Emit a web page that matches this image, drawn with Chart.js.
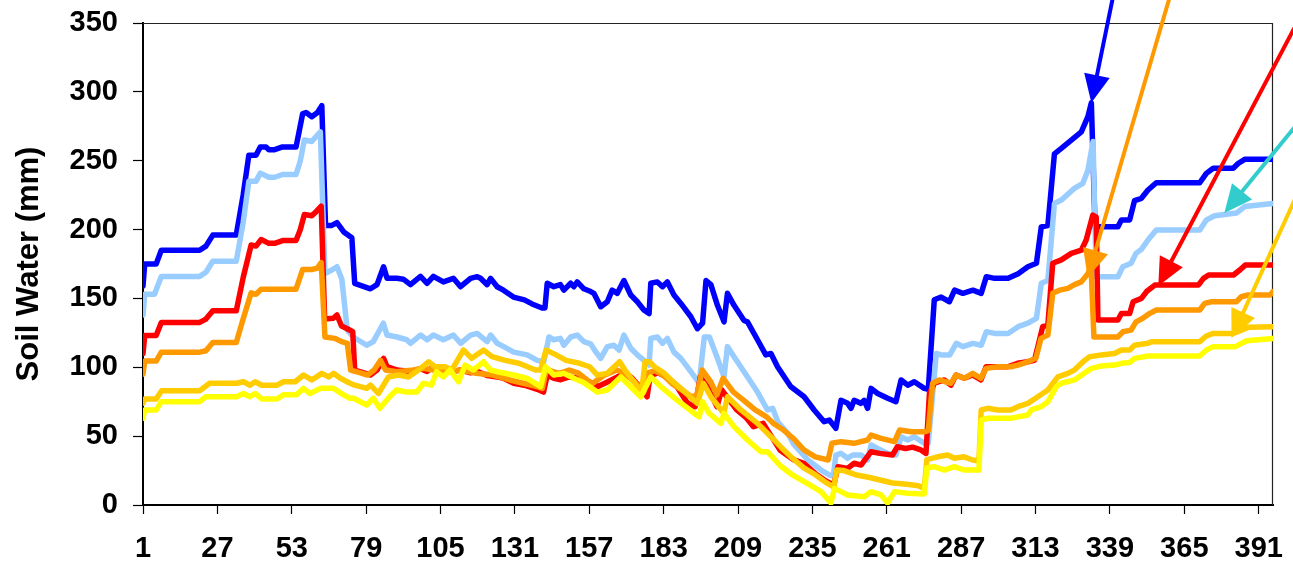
<!DOCTYPE html>
<html>
<head>
<meta charset="utf-8">
<script src="https://cdn.jsdelivr.net/npm/chart.js@4.4.1/dist/chart.umd.min.js"></script>
<style>
  html, body { margin: 0; padding: 0; background: #ffffff; }
  #c { display: block; }
</style>
</head>
<body>
<canvas id="c" width="1293" height="576"></canvas>
<script>
// Day-of-record tick labels and soil-water tick values
const dayTicks = [1, 27, 53, 79, 105, 131, 157, 183, 209, 235, 261, 287, 313, 339, 365, 391];
const mmTicks = [0, 50, 100, 150, 200, 250, 300, 350];

// Soil water (mm) per profile, as [day, mm] pairs
const blueProfile = [[1,159],[1.6,175],[5.6,175],[7.4,185],[20.8,185],[23,188],[25.4,196],[33.6,196],[36,225],[38,254],[40.5,254],[42,260],[44,260],[45,258],[47,258],[49.8,260],[54.5,260],[56.8,284],[58,285],[60,282],[62,285],[63.5,290],[64.8,203],[67,203],[68.8,205],[71.3,198],[74,194],[75,161],[80.5,157],[82.8,160],[85.1,173],[86.3,164.6],[89.8,164.6],[92,164],[94.5,160],[98,166],[100.3,161],[102.5,166],[106,162],[109.5,164.6],[112,158.5],[115.5,164.6],[117.8,165.8],[119,164.6],[121.3,160],[122.5,164.6],[124.8,158.5],[127,156],[130.5,151],[134.3,149],[137,146],[140.5,143],[141.5,143],[142.3,161],[144.6,158.5],[146.9,160],[148.1,156],[150.5,161],[151.6,158.5],[152.8,162],[155.1,157],[157.5,155],[158.6,153.7],[161,144],[163.3,147.6],[165,156],[166.8,153.7],[169.1,163],[171.5,152.5],[173.8,147.6],[176.1,141.6],[177.9,139],[178.5,161],[180.8,162],[182.6,158.5],[184.3,162],[186.6,152.5],[189,146.4],[192.5,136.7],[194.8,128],[196.6,132],[197.8,163],[199.5,160],[201.8,145],[204.1,133],[205.3,153.7],[207.6,145],[211.1,134],[212.3,133],[215.8,120],[218.7,109],[220.5,110],[222.8,100.4],[227.4,86],[232.1,78.6],[235.6,69],[239.1,60.5],[240.9,61.7],[243.2,55.7],[245,76],[247.3,73.8],[248.5,70.2],[249.6,76],[252,73.8],[253.1,76],[254.3,70.2],[255.5,84.7],[257.8,81],[261.3,77.5],[264.2,75],[266,90.8],[268.3,87],[270.6,89.5],[274.1,84.7],[275.5,84],[277.6,149],[280,151],[282.9,147.6],[284.7,156],[287.6,153.7],[291.1,156],[294,153.7],[295.8,165.8],[298.7,164.6],[303.4,164.6],[306.9,168],[310.3,173],[313.3,175.5],[315,202],[317.3,203],[319.6,255],[322,259],[325.5,265],[329,271],[331.3,282],[332.5,292],[333.8,202],[341.8,202],[343,207],[345.9,207],[347.6,221],[350,222.7],[352.3,228.7],[355.2,234],[370.4,234],[372.7,240.8],[375.1,244.5],[382.1,244.5],[383.8,248],[386.1,251],[396,251]];

const lightBlueProfile = [[1,138],[1.6,153],[5,153],[7.4,166],[20.8,166],[23,169],[25.4,177],[33.6,177],[36,205],[38,235],[40.5,235],[42,241],[45,238],[47,238],[49.8,240],[54.5,240],[56,250],[57.4,265],[60,264],[63,271],[64.6,168],[67,170.6],[68.8,173],[70.5,164],[72.4,127],[74.5,122],[79.2,116],[81.5,118.6],[85,132],[86.3,123.4],[89.8,122],[93.2,120],[94.5,117.4],[98,123.4],[100.3,120],[102.5,123.4],[106,120],[109.5,123.4],[112,117.4],[115.5,123.4],[117.8,124.6],[121.3,118.6],[122.5,123.4],[124.8,117.4],[127.1,115],[130.6,111],[135.3,109],[138.8,105],[141.1,104],[142.9,122],[144.6,120],[146.9,121],[148.1,116],[150.5,122],[152.8,123.4],[155.1,118.6],[157.5,117],[159,112],[161,106.5],[163.3,115],[165.6,116],[167.4,112.5],[169.1,123.4],[171.5,113.8],[173.8,109],[176.1,105],[177.9,101.6],[178.5,121],[180.8,122],[182.6,117.4],[184.3,121],[186.6,111],[189,106.5],[192.5,96.8],[195.4,88.4],[197.2,122],[199,122],[201.8,106.5],[204.1,93],[205.3,115],[207.6,107.7],[211.1,96.8],[215.8,82],[219.3,69],[221.1,70.2],[223,60],[226.4,52],[228.5,44],[233.3,33],[238,25.4],[240.9,21.8],[242.3,21],[243.2,36.3],[245,37.5],[247.3,34],[249.1,36.3],[252,36.3],[254.3,32.7],[255.5,43.6],[257.8,41],[261.3,37.5],[264.2,36.3],[266,49.6],[268.3,47.2],[270.6,49.6],[274.1,44.8],[275.5,45],[277,80],[278.3,110],[280,109],[283,109],[285.3,117.4],[287.6,115],[291.1,117.4],[294,116],[295.8,125.8],[298.7,124.6],[303.4,124.6],[306.9,129.5],[310.3,132],[313.3,135.6],[315,161],[317.3,163],[319.6,219],[322,221.4],[326.6,230],[329.5,233.5],[331.3,243],[333.1,264],[334.2,165.8],[341.8,165.8],[343.5,173],[346.4,175.5],[348.1,182.7],[350,185.6],[352.3,192.4],[355.2,199.7],[370.4,199.7],[372.7,207],[375.6,210],[383.2,212],[386.1,216.7],[396,219]];

const redProfile = [[1,110],[1.6,123],[5.6,123],[7.4,132.6],[20.8,132.6],[23,135],[25.4,141],[33.6,141],[36,165],[38.8,188.8],[40.5,188],[42.3,192.8],[45,190],[47,190],[49.8,192],[54.5,192],[56,200],[57.4,211],[60,210],[61.5,213],[63.3,217],[64.5,135],[67.5,135.6],[68.8,138],[70.4,130],[72.4,128],[74.3,125.8],[75,98],[80.5,94.4],[82.8,98],[85.1,106.5],[86.3,100.4],[89.8,98],[94.5,97],[98,99],[100.3,97],[102.5,100.4],[106,98],[109.5,97],[112,98],[115.5,96],[118,97],[121.3,94],[124.8,93],[127,92],[130.6,88.4],[134.3,87],[138.8,84],[141,82],[142.3,94.4],[144.6,92],[147,91],[150,93],[153,92],[157.5,89],[160,86],[163,89],[166.8,93],[169.5,96],[172,92],[175,85],[177.2,78.6],[178.3,94],[181,96],[184,93],[187,88],[191.3,74],[194,71.4],[195.8,93],[198.5,85],[201.6,71.4],[203.3,83.5],[208.6,69],[212,63],[214.4,56.9],[217.8,59.3],[220,52],[223.6,40],[228.3,33],[232,30.3],[236.5,22],[240,17],[242.5,14.5],[243.9,27.8],[247.3,26.6],[249.6,30.3],[252,29],[255.5,38.7],[258.5,37.5],[263,36.3],[264.7,42.3],[267.6,41],[270,42],[272.9,40],[274.7,37.5],[275.9,81],[277.6,88.4],[281.1,90.8],[283.4,87],[285.2,94.4],[288.1,92],[291,94.4],[293.9,90.8],[295.7,100.4],[303.3,100.4],[306.7,102.9],[310.2,104],[312.6,105],[313.8,115],[315.5,129.5],[317.3,130.7],[319,175.5],[322,178],[325.5,182.7],[329,185],[330.7,192.4],[333,210.5],[334.2,209],[334.8,134.3],[341.8,134.3],[343,139],[345.9,139],[347.1,147.6],[350,150],[351.8,155],[354.7,159.7],[369.9,159.7],[371.7,164.6],[373.5,167],[382.2,167],[384.6,171],[386.3,174.2],[396,174.2]];

const orangeProfile = [[1,95],[1.6,104.5],[5.6,104.5],[7.4,111],[20.8,111],[23,112],[25.4,118],[33.6,118],[36,135],[38.8,154],[40.5,153],[42.3,156.7],[54.5,156.7],[56.8,171],[60,171],[62,172],[63.3,176],[64.6,122],[68,121],[70.5,118.6],[72.4,117.4],[73.6,98],[77,96],[79.5,94.4],[81.8,98],[84,105],[85.8,98],[89.8,96.8],[95.5,98],[99,99.2],[102.5,98],[107.6,96.8],[112.2,98],[117.5,95.6],[123.3,94.4],[129.2,90.8],[133.9,88.4],[138.8,86],[140.6,84.7],[142,99],[144,97],[146.5,95.6],[150,98],[153,96],[158,88],[162,94],[166.6,98],[169,96],[172.6,90],[176,82],[177.5,96],[180,97.5],[183,94],[186,88],[189,84],[192.5,79],[194.5,79],[196.5,98],[199.3,90],[201.6,80],[203.8,92],[207.4,82],[211,76],[215,69],[219,64],[221.5,59],[224.5,55],[228.5,48],[232,40],[236,35],[240.5,32.7],[241.8,44.8],[245,46],[249.5,44.8],[254.3,47.2],[255.5,50.8],[259,48.4],[263.7,46],[265.5,54.5],[269.6,53.2],[274.1,53.2],[275.5,54],[277,88.4],[279.3,90.8],[283.4,88.4],[285.2,94.4],[288.1,92],[291,95.6],[293.9,92],[295.7,99.2],[299.8,100.4],[304.4,100.4],[306.8,101.6],[310.3,104],[313.1,106.5],[314.9,121],[317.3,123.4],[319,153.7],[321.4,156],[324.3,157.3],[326.6,160],[329,162],[331.3,168],[332.4,173],[333.4,122],[341.8,122],[343.5,125.8],[346.4,127],[348.1,133],[350.5,135.6],[352.8,139],[355.2,141.6],[370.4,141.6],[372.1,146.4],[374.5,147.6],[383.2,147.6],[384.9,151.2],[387.3,152.5],[395,152.5],[396,155]];

const amberProfile = [[1,74],[1.6,77],[5.6,77],[7.5,83],[20.8,83],[24.3,88.4],[33.7,88.4],[36.1,89.5],[38.4,87],[40.2,89.5],[42.5,87],[47.8,87],[50.1,89.5],[54.2,89.5],[57.1,94.4],[60,90.8],[63.5,95.6],[65.9,93],[67.6,95.6],[70,92],[73.4,88.4],[75,87],[79.2,84.7],[80.5,87],[83.3,81],[86.8,93],[90.3,94.4],[93.8,93],[97.3,98],[100.8,104],[103.1,100.4],[106.6,100.4],[108.9,98],[113,112.5],[115.9,106.5],[120.1,112.5],[123,107.7],[127.6,105],[132.4,102.9],[138.2,98],[140,98],[141.9,112.5],[145.4,109],[148.9,105],[153.6,102.9],[157.1,100.4],[159.8,94.4],[163.3,95.6],[167.6,104],[169.5,98],[175.3,82],[176.5,104],[178,104],[180,100],[183,96],[186,90],[189,84.7],[192.5,78],[194.8,73.8],[196.9,88.4],[199.5,78.6],[204,66.6],[205.3,78.6],[210,69],[215.8,59.3],[220.5,49.6],[224,42],[228,34],[232,27],[236,22],[240,16],[242.5,13],[243.5,25.4],[246,25],[250,22],[255,20],[259,18],[263,16],[268,15],[272,14],[274.1,12],[275,33],[278.8,35],[282.3,36.3],[284.6,33.9],[288,35],[291,32.7],[293.2,32],[294,69],[296.3,70.2],[299.8,69],[304.4,69],[306.8,71.4],[310.3,73.8],[313.8,78.6],[317.3,83.5],[320.8,93],[324.3,95.6],[326.6,98],[329.6,104],[331.9,107.7],[336,109],[340.6,110],[343,112.5],[345.9,112.5],[347.6,116],[352.3,117.4],[353.5,118.6],[370.4,118.6],[372.7,122.7],[375.1,124.6],[382.1,124.6],[385,127],[387.3,129],[396,129.5]];

const yellowProfile = [[1,63],[1.6,69],[5.6,69],[7.4,75],[20.8,75],[23,78.6],[33.7,78.6],[36.1,81],[38.4,78.6],[40.2,81],[42.5,77],[47.8,77],[50.1,80],[54.7,80],[57.1,84.7],[59.4,81],[63,84.7],[67.6,84.7],[71.1,80],[73.4,77.5],[74.6,77.5],[79.2,72.6],[81.5,77.5],[83.8,70.2],[87.2,78.6],[89.6,83.5],[93.2,82],[96.7,82],[99,88.4],[101.9,87],[103.6,96.8],[106,93],[108.3,98],[111.3,89.5],[113.6,101.6],[116.5,98],[120,104],[122.5,98],[124.8,96.8],[130.6,94.4],[135.3,92],[140,86],[141.7,100.4],[144.6,94.4],[148.1,95.6],[151.6,92],[155,89],[159.8,82],[163.3,83.5],[168,93],[175,78.6],[178.5,93],[182,86],[187.8,76],[193.7,66.6],[195.4,64],[196.6,75],[198.9,66.6],[203,59.3],[204.1,66.6],[207.6,56.9],[212.3,47.2],[217,38.7],[219.3,38.7],[223.8,28.5],[228,21.8],[233.2,15.7],[238,9.7],[241.5,1.5],[242.7,12],[245,9.7],[247.3,7.3],[253.1,6],[255.5,9.7],[259,7.3],[261.3,1.5],[263.7,9.7],[268.3,8.5],[274.1,8],[275,27],[277.6,27.8],[281.1,25.4],[284.6,27.8],[288,25.4],[293.2,25.4],[294,61.7],[296.3,63],[304.4,63],[306.8,64],[310.3,65.3],[311.5,69],[315,71.4],[317.3,75],[320.3,86],[322,88.4],[326.6,90.8],[329.5,95],[332.4,99],[336,101],[340.6,101.6],[343,102.9],[345.9,103.5],[347.6,106.5],[352.3,108.2],[370.4,108.2],[372.7,112.5],[375.1,115],[382.8,115],[385,117.4],[386.7,119.3],[396,121]];

// Pointer arrows: tail and tip in [day, mm]; tails run past the plot edges
const pointers = [
  { color: '#0000FF', tail: [340.2, 370.3], tip: [332.5, 292] },
  { color: '#FF9900', tail: [360.1, 370.3], tip: [331.2, 165.2] },
  { color: '#FF0000', tail: [405.3, 353.7], tip: [355.9, 159] },
  { color: '#33CCCC', tail: [405.3, 278.8], tip: [379, 212] },
  { color: '#FFCC00', tail: [405.3, 229.4], tip: [381.5, 121.3] }
];

const FONT = '"Liberation Sans", Arial, Helvetica, sans-serif';

const series = [
  { label: 'Profile A', pts: blueProfile, color: '#0000FF', order: 6 },
  { label: 'Profile B', pts: lightBlueProfile, color: '#99CCFF', order: 5 },
  { label: 'Profile C', pts: redProfile, color: '#FF0000', order: 4 },
  { label: 'Profile D', pts: orangeProfile, color: '#FF9900', order: 3 },
  { label: 'Profile E', pts: amberProfile, color: '#FFCC00', order: 2 },
  { label: 'Profile F', pts: yellowProfile, color: '#FFFF00', order: 1 }
];

// Thin frame along the top and right of the plot area
const plotFrame = {
  id: 'plotFrame',
  beforeDatasetsDraw(chart) {
    const { ctx, chartArea: a } = chart;
    ctx.save();
    ctx.strokeStyle = '#222222';
    ctx.lineWidth = 1.2;
    ctx.beginPath();
    ctx.moveTo(a.left, a.top + 0.5);
    ctx.lineTo(a.right - 0.5, a.top + 0.5);
    ctx.lineTo(a.right - 0.5, a.bottom);
    ctx.stroke();
    ctx.restore();
  }
};

// Arrows drawn over the lines, positioned through the chart scales
const pointerArrows = {
  id: 'pointerArrows',
  afterDatasetsDraw(chart) {
    const { ctx } = chart;
    const xs = chart.scales.x, ys = chart.scales.y;
    const headLen = 28, headHalf = 13;
    ctx.save();
    pointers.forEach(p => {
      const x0 = xs.getPixelForValue(p.tail[0]), y0 = ys.getPixelForValue(p.tail[1]);
      const x1 = xs.getPixelForValue(p.tip[0]), y1 = ys.getPixelForValue(p.tip[1]);
      const len = Math.hypot(x1 - x0, y1 - y0);
      const ux = (x1 - x0) / len, uy = (y1 - y0) / len;
      const bx = x1 - ux * headLen, by = y1 - uy * headLen;
      ctx.strokeStyle = p.color;
      ctx.fillStyle = p.color;
      ctx.lineWidth = 4;
      ctx.lineCap = 'butt';
      ctx.beginPath();
      ctx.moveTo(x0, y0);
      ctx.lineTo(bx + ux * 2, by + uy * 2);
      ctx.stroke();
      ctx.beginPath();
      ctx.moveTo(x1, y1);
      ctx.lineTo(bx - uy * headHalf, by + ux * headHalf);
      ctx.lineTo(bx + uy * headHalf, by - ux * headHalf);
      ctx.closePath();
      ctx.fill();
    });
    ctx.restore();
  }
};

new Chart(document.getElementById('c'), {
  type: 'line',
  data: {
    datasets: series.map(s => ({
      label: s.label,
      data: s.pts.map(([x, y]) => ({ x, y })),
      borderColor: s.color,
      backgroundColor: s.color,
      borderWidth: 5.5,
      borderJoinStyle: 'round',
      borderCapStyle: 'round',
      pointRadius: 0,
      tension: 0,
      fill: false,
      order: s.order
    }))
  },
  options: {
    responsive: false,
    animation: false,
    devicePixelRatio: 1,
    layout: { padding: { top: 23, right: 20, left: 0, bottom: 0 } },
    plugins: { legend: { display: false }, tooltip: { enabled: false } },
    scales: {
      x: {
        type: 'linear',
        min: 1,
        max: 396,
        afterBuildTicks: axis => { axis.ticks = dayTicks.map(v => ({ value: v })); },
        afterFit: axis => {
          axis.height = 71;
          axis.paddingLeft = 0; axis.paddingRight = 0;
        },
        ticks: {
          autoSkip: false, maxRotation: 0, padding: 18, color: '#000000',
          font: { family: FONT, size: 29, weight: 'bold' }
        },
        grid: { display: true, drawOnChartArea: false, drawTicks: true, tickLength: 9, color: '#000000', tickWidth: 1.2 },
        border: { display: true, color: '#000000', width: 2 }
      },
      y: {
        type: 'linear',
        min: 0,
        max: 350,
        afterBuildTicks: axis => { axis.ticks = mmTicks.map(v => ({ value: v })); },
        afterFit: axis => {
          axis.width = 143;
          axis.paddingTop = 0; axis.paddingBottom = 0;
        },
        ticks: {
          padding: 15, color: '#000000',
          font: { family: FONT, size: 29, weight: 'bold' }
        },
        grid: { display: true, drawOnChartArea: false, drawTicks: true, tickLength: 10, color: '#000000', tickWidth: 1.2 },
        border: { display: true, color: '#000000', width: 2 },
        title: {
          display: true, text: 'Soil Water (mm)', color: '#000000',
          font: { family: FONT, size: 31, weight: 'bold' },
          padding: { top: 11, bottom: 0 }
        }
      }
    }
  },
  plugins: [plotFrame, pointerArrows]
});
</script>
</body>
</html>
